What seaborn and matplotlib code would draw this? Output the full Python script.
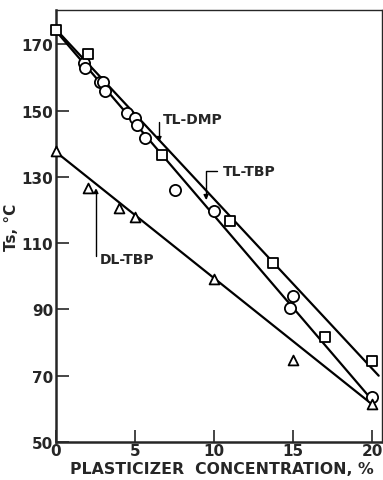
import numpy as np
import pandas as pd
import seaborn as sns
import matplotlib.pyplot as plt

dmp_x = [0.0, 2.0, 6.7, 11.0, 13.7, 17.0, 20.0]
dmp_y = [174.4, 167.0, 136.7, 116.8, 103.9, 81.8, 74.3]

tbp_x = [1.8, 1.85, 2.8, 3.0, 3.1, 4.5, 5.0, 5.1, 5.65, 7.5, 10.0, 15.0, 14.8, 20.0]
tbp_y = [164.3, 162.8, 158.7, 158.5, 156.0, 149.1, 147.6, 145.6, 141.6, 126.1, 119.6, 94.1, 90.4, 63.7]

dl_x = [0.0, 2.0, 4.0, 5.0, 10.0, 15.0, 20.0]
dl_y = [137.9, 126.6, 120.6, 117.8, 99.2, 74.7, 61.5]

# drawn trend lines (end points)
dmp_fit_x = [0.0, 20.4]
dmp_fit_y = [174.5, 70.0]
tbp_fit_x = [0.0, 20.1]
tbp_fit_y = [174.0, 62.0]
dl_fit_x = [0.0, 20.0]
dl_fit_y = [137.5, 61.3]

x_ticks = [0, 5, 10, 15, 20]
y_ticks = [50, 70, 90, 110, 130, 150, 170]

sns.set_style("ticks")
plt.rcParams['font.family'] = ['DejaVu Sans']

fig = plt.figure(figsize=(3.83, 4.81), dpi=100)
ax = fig.add_axes([0.146, 0.079, 0.851, 0.898])

for fx, fy in [(dmp_fit_x, dmp_fit_y), (tbp_fit_x, tbp_fit_y), (dl_fit_x, dl_fit_y)]:
    sns.lineplot(x=fx, y=fy, ax=ax, color='black', lw=1.6)

mk = dict(facecolor='white', edgecolor='black', linewidth=1.3, zorder=3, clip_on=False)
sns.scatterplot(x=tbp_x, y=tbp_y, marker='o', s=65, ax=ax, **mk)
sns.scatterplot(x=dmp_x, y=dmp_y, marker='s', s=55, ax=ax, **mk)
sns.scatterplot(x=dl_x, y=dl_y, marker='^', s=50, ax=ax, **mk)

ax.set_xlim(0, 20.6)
ax.set_ylim(50, 180.3)
ax.set_xticks(x_ticks)
ax.set_yticks(y_ticks)
ax.tick_params(direction='in', length=9, width=1.2, labelsize=11, pad=1)
ax.tick_params(axis='y', pad=2)
for lab in ax.get_xticklabels() + ax.get_yticklabels():
    lab.set_fontweight('bold')
ax.spines['left'].set_linewidth(1.8)
ax.spines['bottom'].set_linewidth(1.8)
ax.spines['top'].set_linewidth(1.0)
ax.spines['right'].set_linewidth(1.0)

ax.set_xlabel('PLASTICIZER  CONCENTRATION, %', fontsize=11.3, fontweight='bold')
ax.xaxis.set_label_coords(0.51, -0.045)
ax.set_ylabel('Ts, °C', fontsize=11, fontweight='bold', labelpad=2)

arrow = dict(arrowstyle='-|>', color='black', lw=1.0, mutation_scale=7,
             shrinkA=2, shrinkB=0, relpos=(0, 0.5))
ax.annotate('TL-DMP', xy=(6.52, 140.5), xytext=(6.77, 147.4), ha='left', va='center',
            fontsize=10, fontweight='bold',
            arrowprops=dict(connectionstyle='angle,angleA=0,angleB=90,rad=0', **arrow))
ax.annotate('TL-TBP', xy=(9.49, 123.0), xytext=(10.57, 131.7), ha='left', va='center',
            fontsize=10, fontweight='bold',
            arrowprops=dict(connectionstyle='angle,angleA=0,angleB=90,rad=0', **arrow))
ax.annotate('DL-TBP', xy=(2.53, 126.6), xytext=(2.78, 105.2), ha='left', va='center',
            fontsize=10, fontweight='bold',
            arrowprops=dict(connectionstyle='angle,angleA=0,angleB=90,rad=0', **arrow))

fig.savefig('out.png', dpi=100)
